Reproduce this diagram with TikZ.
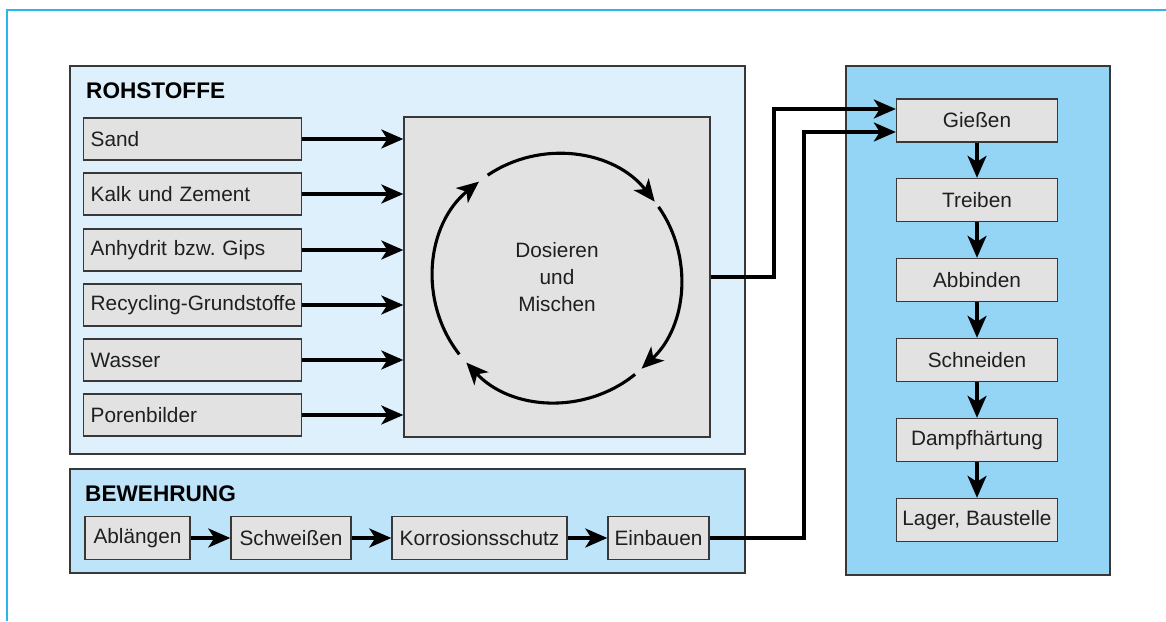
\documentclass[tikz,border=0pt]{standalone}
\usepackage{fontspec}
\setmainfont{Liberation Sans}
\usetikzlibrary{arrows.meta,calc}
\definecolor{framecyan}{HTML}{29B6EE}
\definecolor{rohfill}{HTML}{DEF0FC}
\definecolor{bewfill}{HTML}{BDE4F8}
\definecolor{procfill}{HTML}{94D5F5}
\definecolor{boxfill}{HTML}{E2E2E2}
\definecolor{boxline}{HTML}{383838}

\begin{document}
\begin{tikzpicture}[x=1pt,y=1pt,
  panel/.style={draw=boxline,line width=1.4pt},
  inbox/.style={draw=boxline,fill=boxfill,line width=1.4pt,anchor=west,minimum height=42pt,inner xsep=7pt,text width=204pt,align=left,text=black!88,font=\fontsize{20.8}{24}\selectfont},
  stepbox/.style={draw=boxline,fill=boxfill,line width=1.4pt,minimum height=43pt,inner xsep=0pt,text=black!88,font=\fontsize{20.8}{24}\selectfont},
  flow/.style={line width=3.1pt,-{Stealth[length=22pt,width=19pt,inset=6pt]}},
  heading/.style={anchor=base west,inner sep=0pt,font=\fontsize{22.6}{24}\selectfont\bfseries}]
\useasboundingbox (0,0) rectangle (1166,621);
\draw[framecyan,line width=1.5pt] (7,0) -- (7,611) -- (1166,611);

\draw[panel,fill=rohfill] (70,167) rectangle (745,555);
\draw[panel,fill=bewfill] (70,48) rectangle (745,152);
\draw[panel,fill=procfill] (846,46) rectangle (1110,555);

\node[heading] (roh) at (86,522) {ROHSTOFFE};
\node[heading] (bew) at (85,120) {BEWEHRUNG};

\node[inbox] (sand) at (83,482) {Sand};
\node[inbox] (kalk) at (83,427) {Kalk und Zement};
\node[inbox] (anhy) at (83,371) {Anhydrit bzw.\ Gips};
\node[inbox] (recy) at (83,316) {\mbox{Recycling-Grundstoffe}};
\node[inbox] (wass) at (83,261) {Wasser};
\node[inbox] (pore) at (83,206) {Porenbilder};

\node[stepbox,minimum width=306pt,minimum height=320pt,align=center,font=\fontsize{20.8}{27}\selectfont] (mix) at (557,344) {Dosieren\\und\\Mischen};
\coordinate (ring) at (557,343);

\draw[flow] (sand.east) -- (sand.east -| mix.west);
\draw[flow] (kalk.east) -- (kalk.east -| mix.west);
\draw[flow] (anhy.east) -- (anhy.east -| mix.west);
\draw[flow] (recy.east) -- (recy.east -| mix.west);
\draw[flow] (wass.east) -- (wass.east -| mix.west);
\draw[flow] (pore.east) -- (pore.east -| mix.west);

\draw[flow] ($(ring)+(124:124)$) arc[start angle=124,end angle=38,radius=124];
\draw[flow] ($(ring)+(35:124)$) arc[start angle=35,end angle=-47,radius=124];
\draw[flow] ($(ring)+(-51:124)$) arc[start angle=-51,end angle=-137,radius=124];
\draw[flow] ($(ring)+(-142:124)$) arc[start angle=-142,end angle=-231,radius=124];

\node[stepbox,minimum width=105pt] (abla) at (137.5,83) {Ablängen};
\node[stepbox,minimum width=120pt] (schw) at (291,83) {Schweißen};
\node[stepbox,minimum width=175pt] (korr) at (479.5,83) {Korrosionsschutz};
\node[stepbox,minimum width=101pt] (einb) at (658.5,83) {Einbauen};

\draw[flow] (abla) -- (schw);
\draw[flow] (schw) -- (korr);
\draw[flow] (korr) -- (einb);

\node[stepbox,minimum width=161pt] (gies) at (977,500.5) {Gießen};
\node[stepbox,minimum width=161pt] (trei) at (977,421) {Treiben};
\node[stepbox,minimum width=161pt] (abbi) at (977,341) {Abbinden};
\node[stepbox,minimum width=161pt] (schn) at (977,261) {Schneiden};
\node[stepbox,minimum width=161pt] (damp) at (977,181) {Dampfhärtung};
\node[stepbox,minimum width=161pt] (lage) at (977,101) {Lager, Baustelle};

\draw[flow] (gies) -- (trei);
\draw[flow] (trei) -- (abbi);
\draw[flow] (abbi) -- (schn);
\draw[flow] (schn) -- (damp);
\draw[flow] (damp) -- (lage);

\draw[flow] (mix.east) -- (774,344) -- (774,512) -- ([yshift=11.5pt]gies.west);
\draw[flow] (einb.east) -- (804,83) -- (804,489) -- ([yshift=-11.5pt]gies.west);
\end{tikzpicture}
\end{document}
